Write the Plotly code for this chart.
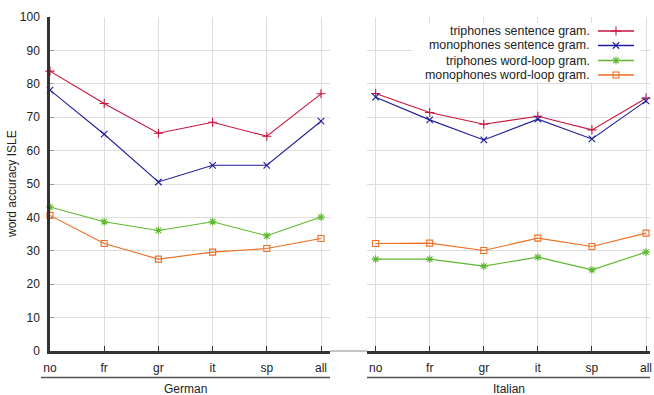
import plotly.graph_objects as go

# ---------------- data ----------------
categories = ["no", "fr", "gr", "it", "sp", "all"]
groups = ["German", "Italian"]
series_names = ["triphones sentence gram.", "monophones sentence gram.",
                "triphones word-loop gram.", "monophones word-loop gram."]

german_tri_sent = [83.8, 74.1, 65.2, 68.5, 64.3, 77.0]
german_mono_sent = [78.1, 64.9, 50.6, 55.6, 55.6, 68.8]
german_tri_word = [43.1, 38.7, 36.1, 38.7, 34.5, 40.1]
german_mono_word = [40.6, 32.2, 27.5, 29.6, 30.7, 33.7]

italian_tri_sent = [77.1, 71.4, 67.9, 70.3, 66.2, 75.7]
italian_mono_sent = [76.0, 69.2, 63.2, 69.4, 63.5, 74.9]
italian_tri_word = [27.5, 27.5, 25.4, 28.1, 24.3, 29.6]
italian_mono_word = [32.2, 32.3, 30.1, 33.8, 31.3, 35.3]

y_title = "word accuracy ISLE"

# ---------------- style ----------------
W, H = 654, 395
ML, MR, MT, MB = 50, 4, 17, 44
PW, PH = W - ML - MR, H - MT - MB
FONT = "Liberation Sans, Arial, Helvetica, sans-serif"
TXT = "#222222"
GRID = "#dddddd"
AXC = "#333333"

colors = ["#c8143c", "#1e1e9a", "#5cb82e", "#ee6e22"]
symbols = ["cross-thin-open", "x-thin-open", "asterisk-open", "square-open"]
msizes = [6.5, 6.5, 6.5, 6]
LW = 1.1


def pxx(px):
    return (px - ML) / PW


def pxy(py):
    return (H - MB - py) / PH


german = [german_tri_sent, german_mono_sent, german_tri_word, german_mono_word]
italian = [italian_tri_sent, italian_mono_sent, italian_tri_word, italian_mono_word]
xidx = list(range(len(categories)))

fig = go.Figure()

for i in range(4):
    for vals, xa, ya in ((german[i], "x", "y"), (italian[i], "x2", "y2")):
        fig.add_trace(go.Scatter(
            x=xidx, y=vals, xaxis=xa, yaxis=ya, mode="lines+markers",
            line=dict(color=colors[i], width=LW),
            marker=dict(symbol=symbols[i], size=msizes[i], color=colors[i],
                        line=dict(color=colors[i], width=LW)),
            showlegend=False, hoverinfo="skip", cliponaxis=False))

# ---------------- custom legend (gnuplot style: text left, sample right) ----------------
x1_lo, x1_hi = 0, 5.166
x2_lo, x2_hi = -0.16, 5.074
d2_lo, d2_hi = 367, 650


def x2data(px):
    return x2_lo + (px - d2_lo) / (d2_hi - d2_lo) * (x2_hi - x2_lo)


def ydata(py):
    return (H - MB - py) / PH * 100


leg_rows = [31, 45.5, 60.5, 75]
for i in range(4):
    ry = ydata(leg_rows[i])
    fig.add_trace(go.Scatter(
        x=[x2data(598), x2data(634)], y=[ry, ry], xaxis="x2", yaxis="y2",
        mode="lines", line=dict(color=colors[i], width=LW + 0.2),
        showlegend=False, hoverinfo="skip", cliponaxis=False))
    fig.add_trace(go.Scatter(
        x=[x2data(616)], y=[ry], xaxis="x2", yaxis="y2", mode="markers",
        marker=dict(symbol=symbols[i], size=msizes[i], color=colors[i],
                    line=dict(color=colors[i], width=LW)),
        showlegend=False, hoverinfo="skip", cliponaxis=False))
    fig.add_annotation(x=pxx(592), y=pxy(leg_rows[i]), xref="paper", yref="paper",
                       text=series_names[i], showarrow=False, xanchor="right",
                       yanchor="middle", font=dict(family=FONT, size=12.4, color=TXT))

shapes = [
    # legend background
    dict(type="rect", xref="x2", yref="y2", x0=x2data(412), x1=x2data(640),
         y0=ydata(82), y1=ydata(23), fillcolor="white", line=dict(width=0),
         layer="between"),
    # thin gap line between panels
    dict(type="line", xref="paper", yref="paper", x0=pxx(330), x1=pxx(367),
         y0=0, y1=0, line=dict(color="#888888", width=1)),
    # group brackets
    dict(type="line", xref="paper", yref="paper", x0=pxx(41), x1=pxx(330),
         y0=pxy(377.5), y1=pxy(377.5), line=dict(color="#555555", width=1.5)),
    dict(type="line", xref="paper", yref="paper", x0=pxx(367), x1=pxx(650),
         y0=pxy(377.5), y1=pxy(377.5), line=dict(color="#555555", width=1.5)),
]
fig.update_layout(shapes=shapes)

fig.add_annotation(x=pxx(185.5), y=pxy(389), xref="paper", yref="paper",
                   text=groups[0], showarrow=False, xanchor="center", yanchor="middle",
                   font=dict(family=FONT, size=12, color=TXT))
fig.add_annotation(x=pxx(509), y=pxy(389), xref="paper", yref="paper",
                   text=groups[1], showarrow=False, xanchor="center", yanchor="middle",
                   font=dict(family=FONT, size=12, color=TXT))
fig.add_annotation(x=pxx(12), y=pxy(184), xref="paper", yref="paper",
                   text=y_title, showarrow=False, textangle=-90,
                   xanchor="center", yanchor="middle",
                   font=dict(family=FONT, size=12, color=TXT))

xcommon = dict(type="linear", tickmode="array", tickvals=xidx, ticktext=categories,
               showgrid=True, gridcolor=GRID, gridwidth=1, showline=True,
               linecolor=AXC, linewidth=2.5, ticks="inside", ticklen=5,
               tickcolor=AXC, tickwidth=1.2, zeroline=False, automargin=False,
               ticklabelstandoff=4,
               tickfont=dict(family=FONT, size=12, color=TXT))

fig.update_layout(
    width=W, height=H,
    margin=dict(l=ML, r=MR, t=MT, b=MB, pad=0, autoexpand=False),
    paper_bgcolor="white", plot_bgcolor="white",
    font=dict(family=FONT, size=12, color=TXT),
    showlegend=False,
    xaxis=dict(domain=[0, pxx(330)], range=[x1_lo, x1_hi], anchor="y", **xcommon),
    xaxis2=dict(domain=[pxx(367), 1.0], range=[x2_lo, x2_hi], anchor="y2", **xcommon),
    yaxis=dict(domain=[0, 1], range=[0, 100], dtick=10, anchor="x",
               showgrid=True, gridcolor=GRID, showline=True, linecolor=AXC,
               linewidth=2.5, ticks="inside", ticklen=4, tickcolor="#999999",
               zeroline=False, automargin=False, ticklabelstandoff=5,
               tickfont=dict(family=FONT, size=12, color=TXT)),
    yaxis2=dict(domain=[0, 1], range=[0, 100], dtick=10, anchor="x2", matches="y",
                showgrid=True, gridcolor=GRID, showline=False, showticklabels=False,
                ticks="", zeroline=False, automargin=False),
)

fig.write_html(
    "out.html",
    config={"displayModeBar": False},
    post_script="document.body.style.margin='0px';document.body.style.padding='0px';",
)
